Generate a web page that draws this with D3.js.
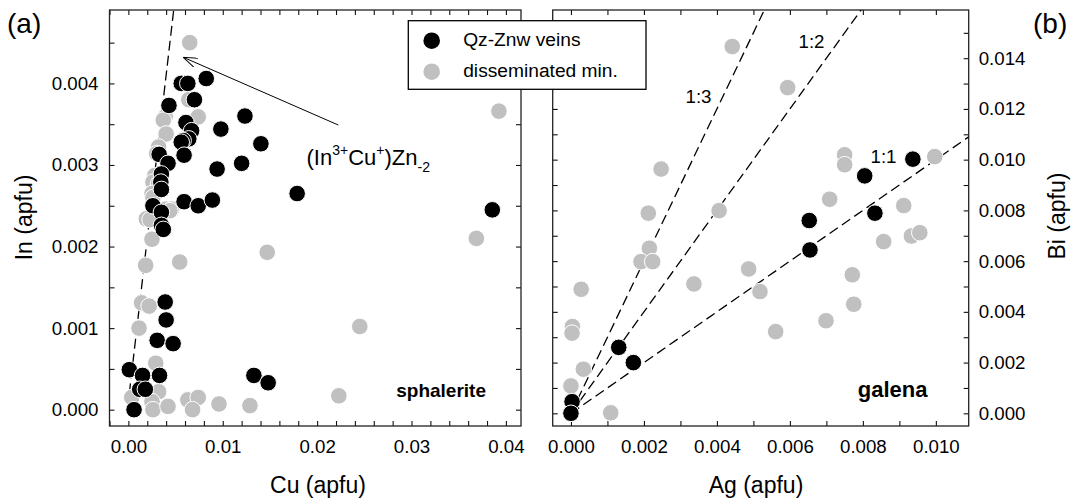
<!DOCTYPE html>
<html><head><meta charset="utf-8">
<script src="https://cdn.jsdelivr.net/npm/d3@7"></script>
<style>
body{margin:0;background:#fff}
svg{display:block;font-family:"Liberation Sans",Arial,Helvetica,sans-serif}
</style>
</head><body>
<svg id="chart" width="1075" height="504"></svg>
<script>
// ---------------- DATA ----------------
// (a) sphalerite: [Cu apfu, In apfu]
const sphaleriteVeins = [
  [0.00825,0.00406],[0.0056,0.0040],[0.0063,0.0040],[0.0070,0.0038],[0.0043,0.00373],
  [0.01235,0.0036],[0.0061,0.00352],[0.0067,0.00342],[0.0098,0.00344],[0.0064,0.00332],
  [0.0058,0.0033],[0.0056,0.00328],[0.01404,0.00326],[0.0059,0.00312],[0.00326,0.00313],
  [0.0120,0.00302],[0.0042,0.00302],[0.0094,0.00295],[0.0035,0.00289],[0.00344,0.00279],
  [0.0035,0.0027],[0.01788,0.00265],[0.0026,0.0025],[0.0059,0.00255],[0.0074,0.0025],
  [0.0089,0.00257],[0.0035,0.00242],[0.0035,0.00226],[0.0037,0.00221],[0.03856,0.00245],
  [0.0039,0.00132],[0.0040,0.0011],[0.00305,0.00085],[0.00474,0.00081],[0.0001,0.00049],
  [0.0015,0.00042],[0.0033,0.00042],[0.0012,0.00025],[0.0018,0.00025],[0.0006,0.0],
  [0.0133,0.00042],[0.01481,0.00033]
];
const sphaleriteDissem = [
  [0.0065,0.0045],[0.0064,0.0038],[0.0039,0.00359],[0.0037,0.00355],[0.0074,0.00359],
  [0.0040,0.00338],[0.0032,0.00322],[0.0030,0.00314],[0.0028,0.00287],[0.0026,0.00279],
  [0.0032,0.00277],[0.0025,0.00265],[0.0026,0.0026],[0.0040,0.00246],[0.0046,0.00246],
  [0.0019,0.00234],[0.0044,0.00244],[0.0023,0.00233],[0.0025,0.00209],[0.01471,0.00193],
  [0.00183,0.00177],[0.00544,0.00181],[0.0014,0.00131],[0.0022,0.00127],[0.00113,0.0010],
  [0.0029,0.00057],[0.0032,0.00022],[0.00036,0.00015],[0.0025,0.0001],[0.0026,0.0],
  [0.0042,0.00004],[0.0063,0.00012],[0.0074,0.00015],[0.0068,0.0],[0.0096,0.00007],
  [0.01288,0.00005],[0.03687,0.0021],[0.02452,0.00102],[0.0223,0.00017],[0.03926,0.00366]
];
// substitution trend line (In3+Cu+)Zn-2 : [Cu, In] end points
const sphaleriteTrend = [[0.0001,0.0002],[0.0048,0.0049]];
// annotation arrow: [from, to] in [Cu, In]
const sphaleriteArrow = [[0.02224,0.00349],[0.00582,0.00432]];

// (b) galena: [Ag apfu, Bi apfu]
const galenaVeins = [
  [0.00131,0.0026],[0.00171,0.0020],[0.00003,0.00046],[0.0,0.0],[0.00805,0.00936],
  [0.00937,0.01002],[0.00833,0.00789],[0.00653,0.0076],[0.00655,0.00644]
];
const galenaDissem = [
  [0.00442,0.01446],[0.00594,0.01284],[0.00247,0.00963],[0.00212,0.00789],[0.00406,0.00799],
  [0.00215,0.00651],[0.00192,0.00598],[0.00224,0.00598],[0.00337,0.0051],[0.00487,0.00569],
  [0.00028,0.00489],[0.00004,0.00342],[0.00003,0.00316],[0.00034,0.00174],[0.0,0.00108],
  [0.00109,0.00002],[0.0075,0.01019],[0.0075,0.0098],[0.00709,0.00844],[0.00912,0.00819],
  [0.00997,0.01012],[0.00857,0.00677],[0.00933,0.00699],[0.00956,0.00712],[0.00518,0.0048],
  [0.00561,0.00322],[0.00699,0.00365],[0.00771,0.00546],[0.00775,0.0043]
];
// Ag:Bi ratio lines (Bi = ratio * Ag)
const ratioValues = [1, 2, 3];
const ratioLabels = ["1:1", "1:2", "1:3"];

// tick labels
const cuTickLabels = [0, 0.01, 0.02, 0.03, 0.04];
const inTickLabels = [0, 0.001, 0.002, 0.003, 0.004];
const agTickLabels = [0, 0.002, 0.004, 0.006, 0.008, 0.010];
const biTickLabels = [0, 0.002, 0.004, 0.006, 0.008, 0.010, 0.012, 0.014];
const legendLabels = ["Qz-Znw veins", "disseminated min."];
const legendColors = ["#000000", "#c0c0c0"];

// ---------------- DRAW ----------------
const svg = d3.select("#chart");
const R = 8.3, FS = 18.7;

const xA = d3.scaleLinear([-0.002, 0.0416], [109.5, 521]);
const yA = d3.scaleLinear([-0.0002, 0.0049], [426, 10]);
const xB = d3.scaleLinear([-0.0005, 0.0109], [552.7, 968.7]);
const yB = d3.scaleLinear([-0.0005, 0.0159], [426, 10]);

function isMajor(v, arr){ return arr.some(m => Math.abs(m - v) < 1e-9); }

function drawAxes(id, x, y, xStep, xMajor, xFmt, yStep, yMajor, yFmt, ySide){
  const [x0, x1] = x.domain(), [y0, y1] = y.domain();
  const xt = d3.range(Math.ceil(x0 / xStep - 1e-6) * xStep, x1 + 1e-9, xStep).map(v => +v.toFixed(6));
  const yt = d3.range(Math.ceil(y0 / yStep - 1e-6) * yStep, y1 + 1e-9, yStep).map(v => +v.toFixed(6));
  const g = svg.append("g").attr("id", id);
  const [rx0, rx1] = x.range(), [ry0, ry1] = y.range();

  const style = sel => {
    sel.select(".domain").remove();
    sel.attr("font-family", null).attr("font-size", FS);
    sel.selectAll("line").attr("stroke", "#111").attr("stroke-width", 1.1);
    sel.selectAll("text").attr("fill", "#000");
  };
  g.append("g").attr("transform", `translate(0,${ry0})`)
    .call(d3.axisBottom(x).tickValues(xt).tickSizeInner(-5).tickSizeOuter(0).tickPadding(14)
      .tickFormat(d => isMajor(d, xMajor) ? xFmt(d) : "")).call(style);
  g.append("g").attr("transform", `translate(0,${ry1})`)
    .call(d3.axisTop(x).tickValues(xt).tickSizeInner(-5).tickSizeOuter(0).tickFormat("")).call(style);
  g.append("g").attr("transform", `translate(${rx0},0)`)
    .call(d3.axisLeft(y).tickValues(yt).tickSizeInner(-5).tickSizeOuter(0).tickPadding(11)
      .tickFormat(d => (ySide === "left" && isMajor(d, yMajor)) ? yFmt(d) : "")).call(style);
  g.append("g").attr("transform", `translate(${rx1},0)`)
    .call(d3.axisRight(y).tickValues(yt).tickSizeInner(-5).tickSizeOuter(0).tickPadding(10)
      .tickFormat(d => (ySide === "right" && isMajor(d, yMajor)) ? yFmt(d) : "")).call(style);
  g.append("rect").attr("x", rx0).attr("y", ry1).attr("width", rx1 - rx0).attr("height", ry0 - ry1)
    .attr("fill", "none").attr("stroke", "#222").attr("stroke-width", 1.3);

  svg.append("clipPath").attr("id", id + "-clip").append("rect")
    .attr("x", rx0).attr("y", ry1).attr("width", rx1 - rx0).attr("height", ry0 - ry1);
}

drawAxes("pa", xA, yA, 0.002, cuTickLabels, d3.format(".2f"), 0.0005, inTickLabels, d3.format(".3f"), "left");
drawAxes("pb", xB, yB, 0.001, agTickLabels, d3.format(".3f"), 0.001, biTickLabels, d3.format(".3f"), "right");

// ----- panel (a) -----
const pa = svg.append("g").attr("clip-path", "url(#pa-clip)");
pa.append("path").datum(sphaleriteTrend)
  .attr("d", d3.line().x(d => xA(d[0])).y(d => yA(d[1])))
  .attr("fill", "none").attr("stroke", "#000").attr("stroke-width", 1.3).attr("stroke-dasharray", "10,5");

function dots(g, data, x, y, color){
  g.selectAll(null).data(data).join("circle")
    .attr("cx", d => x(d[0])).attr("cy", d => y(d[1])).attr("r", R)
    .attr("fill", color).attr("stroke", "#fff").attr("stroke-width", 1);
}
dots(pa, sphaleriteDissem, xA, yA, legendColors[1]);
dots(pa, sphaleriteVeins, xA, yA, legendColors[0]);

// arrow
svg.append("defs").append("marker").attr("id", "arr").attr("viewBox", "0 0 14 10")
  .attr("refX", 14).attr("refY", 5).attr("markerWidth", 14).attr("markerHeight", 10)
  .attr("markerUnits", "userSpaceOnUse").attr("orient", "auto")
  .append("path").attr("d", "M0,0 L14,5 L0,10").attr("fill", "none").attr("stroke", "#000").attr("stroke-width", 1);
svg.append("line")
  .attr("x1", xA(sphaleriteArrow[0][0])).attr("y1", yA(sphaleriteArrow[0][1]))
  .attr("x2", xA(sphaleriteArrow[1][0])).attr("y2", yA(sphaleriteArrow[1][1]))
  .attr("stroke", "#000").attr("stroke-width", 1).attr("marker-end", "url(#arr)");

const ann = svg.append("text").attr("x", 306.5).attr("y", 165).attr("font-size", 22);
ann.append("tspan").text("(In");
ann.append("tspan").attr("font-size", 14).attr("dy", -10).text("3+");
ann.append("tspan").attr("dy", 10).text("Cu");
ann.append("tspan").attr("font-size", 14).attr("dy", -10).text("+");
ann.append("tspan").attr("dy", 10).text(")Zn");
ann.append("tspan").attr("font-size", 14).attr("dy", 6.5).text("-2");

svg.append("text").attr("x", 486).attr("y", 397).attr("text-anchor", "end")
  .attr("font-size", 19).attr("font-weight", "bold").text("sphalerite");

// ----- panel (b) -----
const pb = svg.append("g").attr("clip-path", "url(#pb-clip)");
const agMax = xB.domain()[1];
pb.selectAll(null).data(ratioValues).join("path")
  .attr("d", r => d3.line()([[xB(0), yB(0)], [xB(agMax), yB(agMax * r)]]))
  .attr("fill", "none").attr("stroke", "#000").attr("stroke-width", 1.3).attr("stroke-dasharray", "10,5");
dots(pb, galenaDissem, xB, yB, legendColors[1]);
dots(pb, galenaVeins, xB, yB, legendColors[0]);

const ratioLabelPos = [[883.5, 162.5], [811.5, 48.3], [698.5, 103.3]];
svg.selectAll(null).data(ratioLabels).join("text")
  .attr("x", (d, i) => ratioLabelPos[i][0]).attr("y", (d, i) => ratioLabelPos[i][1])
  .attr("text-anchor", "middle").attr("font-size", FS).text(d => d);

svg.append("text").attr("x", 927.5).attr("y", 396.5).attr("text-anchor", "end")
  .attr("font-size", 22).attr("font-weight", "bold").text("galena");

// ----- axis titles and panel tags -----
svg.append("text").attr("x", 318).attr("y", 493).attr("text-anchor", "middle").attr("font-size", 23).text("Cu (apfu)");
svg.append("text").attr("x", 756).attr("y", 493).attr("text-anchor", "middle").attr("font-size", 23).text("Ag (apfu)");
svg.append("text").attr("transform", "translate(31.5,217.5) rotate(-90)").attr("text-anchor", "middle").attr("font-size", 23).text("In (apfu)");
svg.append("text").attr("transform", "translate(1064.5,216) rotate(-90)").attr("text-anchor", "middle").attr("font-size", 23).text("Bi (apfu)");
svg.append("text").attr("x", 7).attr("y", 33).attr("font-size", 28).text("(a)");
svg.append("text").attr("x", 1033).attr("y", 33).attr("font-size", 28).text("(b)");

// ----- legend -----
const lg = svg.append("g");
lg.append("rect").attr("x", 408.3).attr("y", 20.7).attr("width", 237.7).attr("height", 68.6)
  .attr("fill", "#fff").attr("stroke", "#000").attr("stroke-width", 1.3);
const li = lg.selectAll(null).data(legendLabels).join("g")
  .attr("transform", (d, i) => `translate(431.7,${40.7 + i * 31})`);
li.append("circle").attr("r", R).attr("fill", (d, i) => legendColors[i]);
li.append("text").attr("x", 31.5).attr("y", 5.3).attr("font-size", 19.2).text(d => d);
</script>
</body></html>
